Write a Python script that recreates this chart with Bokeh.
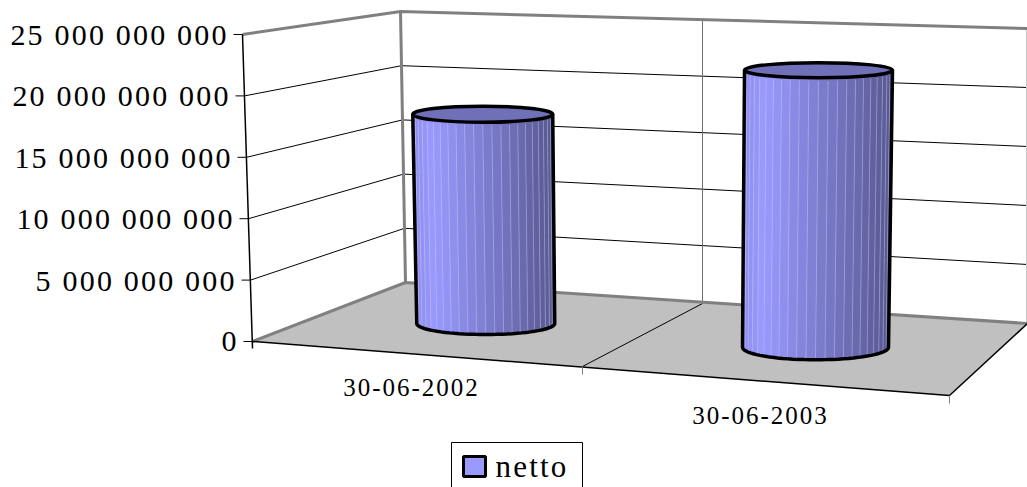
import math
from bokeh.plotting import figure
from bokeh.models import Range1d, CustomJS
from bokeh.core.properties import value
from bokeh.io import curdoc
from bokeh.embed import file_html
from bokeh.resources import INLINE

categories = ["30-06-2002", "30-06-2003"]
series_name = "netto"
netto = [17.75e9, 22.6e9]
y_ticks = [0, 5e9, 10e9, 15e9, 20e9, 25e9]
y_labels = ["0", "5 000 000 000", "10 000 000 000", "15 000 000 000", "20 000 000 000", "25 000 000 000"]
y_max = 25e9

FRONT_X = [252, 582, 949]
FRONT_Y = [341, 366, 395]
BACK_X = [405, 702, 1027]
BACK_Y = [282, 303, 323]
FRONT_H = [307, 318, 330]
BACK_H = [271, 283, 295]
SERIF = "Liberation Serif"
Y_SPACING = 2.2


def lerp3(a, c):
    i = min(int(c), 1)
    return a[i] + (a[i + 1] - a[i]) * (c - i)


def proj(c, d, v):
    fx, fy, fh = lerp3(FRONT_X, c), lerp3(FRONT_Y, c), lerp3(FRONT_H, c)
    bx, by, bh = lerp3(BACK_X, c), lerp3(BACK_Y, c), lerp3(BACK_H, c)
    x = fx + (bx - fx) * d
    y = fy + (by - fy) * d
    h = fh + (bh - fh) * d
    lean = -(5 + 5 * (1 - d)) * max(0.0, 1 - c)
    return x + lean * v / y_max, y - h * v / y_max


p = figure(width=1027, height=487, output_backend="svg", toolbar_location=None,
           x_range=Range1d(0, 1027), y_range=Range1d(487, 0),
           min_border=0, outline_line_color=None, background_fill_color="white", border_fill_color="white",
           x_axis_type=None, y_axis_type=None)
p.xgrid.visible = False
p.ygrid.visible = False

# floor
fl = [proj(0, 0, 0), proj(2, 0, 0), proj(2, 1, 0), proj(0, 1, 0)]
p.patch([q[0] for q in fl], [q[1] for q in fl], fill_color="#C0C0C0", line_color=None)

# gridlines on walls
for v in y_ticks[1:-1]:
    a, b, c = proj(0, 0, v), proj(0, 1, v), proj(2, 1, v)
    p.line([a[0], b[0], c[0]], [a[1], b[1], c[1]], line_color="#000000", line_width=1)
# category divider
a, b = proj(1, 1, 0), proj(1, 1, y_max)
p.line([a[0], b[0]], [a[1], b[1]], line_color="#707070", line_width=1)
a, b = proj(1, 0, 0), proj(1, 1, 0)
p.line([a[0], b[0]], [a[1], b[1]], line_color="#000000", line_width=1)
a, b = proj(2, 1, 0), proj(2, 1, y_max)
p.line([a[0] - 1, b[0] - 1], [a[1], b[1]], line_color="#C8C8C8", line_width=1)

# wall frame
a, b, c = proj(0, 0, y_max), proj(0, 1, y_max), proj(2, 1, y_max)
p.line([a[0], b[0], c[0]], [a[1], b[1], c[1]], line_color="#808080", line_width=3)
a, b = proj(0, 1, 0), proj(0, 1, y_max)
p.line([a[0], b[0]], [a[1], b[1]], line_color="#808080", line_width=3)
a, b, c = proj(0, 0, 0), proj(0, 1, 0), proj(2, 1, 0)
p.line([a[0], b[0], c[0]], [a[1], b[1], c[1]], line_color="#808080", line_width=3)

# front axes
a, b, c = proj(0, 0, 0), proj(2, 0, 0), proj(2, 1, 0)
p.line([a[0], b[0], c[0]], [a[1], b[1], c[1]], line_color="#000000", line_width=1.5)
a, b = proj(0, 0, 0), proj(0, 0, y_max)
p.line([a[0], b[0]], [a[1] + 7, b[1]], line_color="#000000", line_width=1.5)
for v in y_ticks:
    a = proj(0, 0, v)
    p.line([a[0] - 9, a[0]], [a[1], a[1]], line_color="#000000", line_width=1)
for c in (1, 2):
    a = proj(c, 0, 0)
    p.line([a[0], a[0]], [a[1], a[1] + 8], line_color="#808080", line_width=1)

# cylinders: bottom/top radii and ellipse heights, plus centre lean
GEOM = [dict(rb=69, ryb=11, rt=70, ryt=8, lean=-3), dict(rb=73, ryb=12.5, rt=74, ryt=7.5, lean=3)]
N = 24


def shade(t):
    stops = [(0, (0x8E, 0x8E, 0xEE)), (0.14, (0x99, 0x99, 0xFF)), (1, (0x58, 0x58, 0x90))]
    for (t0, c0), (t1, c1) in zip(stops, stops[1:]):
        if t <= t1:
            f = (t - t0) / (t1 - t0)
            return "#%02x%02x%02x" % tuple(round(c0[i] + (c1[i] - c0[i]) * f) for i in range(3))
    return "#585890"


for i, v in enumerate(netto):
    g = GEOM[i]
    c = i + 0.5
    bx, by = proj(c, 0.5, 0)
    _, ty = proj(c, 0.5, v)
    tx = bx + g["lean"]
    xs, ys, cols = [], [], []
    sx, sy = [], []
    for k in range(N):
        a0 = math.pi * (1 - k / N)
        a1 = math.pi * (1 - (k + 1) / N)
        xs.append([bx + g["rb"] * math.cos(a0), bx + g["rb"] * math.cos(a1),
                   tx + g["rt"] * math.cos(a1), tx + g["rt"] * math.cos(a0)])
        ys.append([by + g["ryb"] * math.sin(a0), by + g["ryb"] * math.sin(a1),
                   ty + g["ryt"] * math.sin(a1), ty + g["ryt"] * math.sin(a0)])
        cols.append(shade((1 + math.cos((a0 + a1) / 2)) / 2))
        if k:
            sx.append([bx + g["rb"] * math.cos(a0), tx + g["rt"] * math.cos(a0)])
            sy.append([by + g["ryb"] * math.sin(a0), ty + g["ryt"] * math.sin(a0) + 3])
    p.patches(xs, ys, fill_color=cols, line_color=cols, line_width=0.5)
    p.multi_line(sx, sy, line_color="#D0D0FF", line_alpha=0.4, line_width=1)
    # outline: sides and bottom arc
    arc = [math.pi * (1 - k / 40) for k in range(41)]
    ox = [tx - g["rt"]] + [bx + g["rb"] * math.cos(a) for a in arc] + [tx + g["rt"]]
    oy = [ty] + [by + g["ryb"] * math.sin(a) for a in arc] + [ty]
    p.line(ox, oy, line_color="#000000", line_width=3.5)
    p.ellipse([tx], [ty], width=[2 * g["rt"]], height=[2 * g["ryt"]], fill_color="#7070B8",
              line_color="#000000", line_width=3.5)

# labels
for v, lab in zip(y_ticks, y_labels):
    a = proj(0, 0, v)
    p.text([a[0] - 11], [a[1]], text=[lab], text_align="right", text_baseline="middle",
           x_offset=-(5 + (len(lab) - 1) * Y_SPACING), text_font=value(SERIF),
           text_font_size="30px", text_color="#000000")
cat_label_x = [401, 750]
cat_label_y = [387, 415]
p.text(cat_label_x, cat_label_y, text=categories, text_align="center", text_baseline="middle",
       text_font=value(SERIF), text_font_size="25px", text_color="#000000")

# legend
p.quad(left=[451], right=[582], top=[442], bottom=[495], fill_color="white", line_color="#000000", line_width=1)
p.quad(left=[463], right=[485], top=[456], bottom=[476], fill_color="#9999FF", line_color="#000000", line_width=3)
p.text([495], [466], text=[series_name], text_align="left", text_baseline="middle",
       text_font=value(SERIF), text_font_size="31px", text_color="#000000")

# letter spacing of the reference's texts, applied to the svg text nodes
spacing_js = """
function walk(root) {
  root.querySelectorAll('*').forEach(function (el) {
    if (el.shadowRoot) walk(el.shadowRoot);
    if (el.tagName && el.tagName.toLowerCase() === 'text') {
      var fs = parseFloat(getComputedStyle(el).fontSize);
      el.style.letterSpacing = fs >= 31 ? '2.2px' : (fs >= 30 ? '%spx' : '2px');
    }
  });
}
var n = 0;
var h = setInterval(function () { walk(document); if (++n > 20) clearInterval(h); }, 100);
""" % Y_SPACING
doc = curdoc()
doc.add_root(p)
doc.js_on_event("document_ready", CustomJS(code=spacing_js))

open("out.html", "w").write(file_html(doc, INLINE))
